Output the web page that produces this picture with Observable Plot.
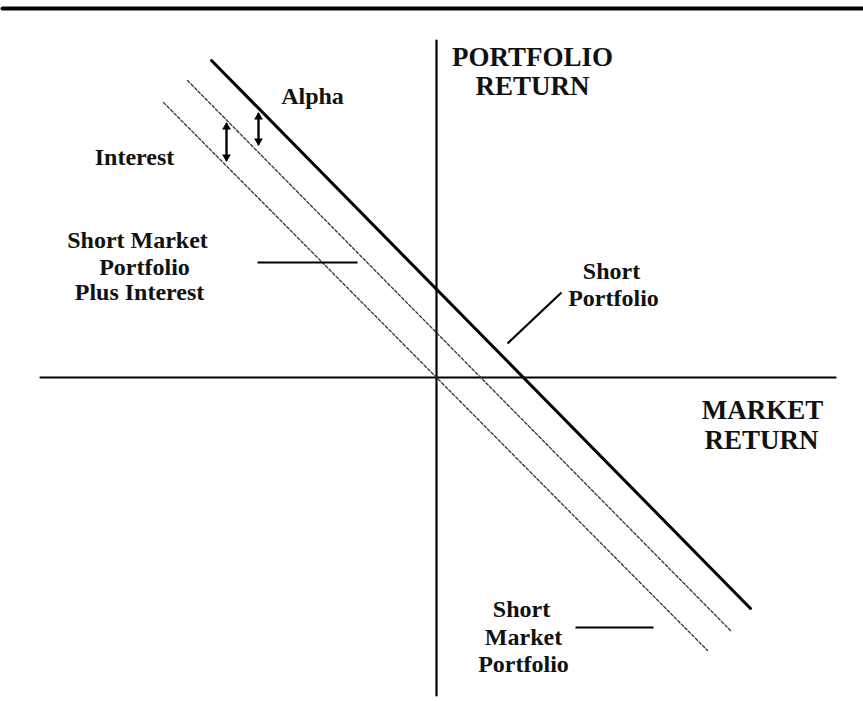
<!DOCTYPE html>
<html>
<head>
<meta charset="utf-8">
<script src="https://cdn.jsdelivr.net/npm/d3@7"></script>
<script src="https://cdn.jsdelivr.net/npm/@observablehq/plot@0.6"></script>
<style>
  html, body { margin: 0; padding: 0; background: #fff; }
  #chart svg { display: block; }
</style>
</head>
<body>
<div id="chart"></div>
<script>
// Lines in (market return, portfolio return) units
const shortPortfolio = [{x: -5.625, y: 7.925}, {x: 7.85, y: -5.775}];
const shortMarketPlusInterest = [{x: -6.225, y: 7.425}, {x: 7.35, y: -6.325}];
const shortMarket = [{x: -6.825, y: 6.875}, {x: 6.775, y: -6.825}];

// Axes extents
const xAxisLine = [{x: -9.9, y: 0}, {x: 9.975, y: 0}];
const yAxisLine = [{x: 0, y: 8.425}, {x: 0, y: -7.95}];
const topRule = [{x: -10.85, y: 9.225}, {x: 10.675, y: 9.225}];

// Double-headed arrows: alpha and interest gaps
const gapArrows = [
  {name: "Alpha", x: -4.45, y1: 6.6, y2: 5.825},
  {name: "Interest", x: -5.25, y1: 6.35, y2: 5.425}
];

// Leader lines from labels to lines
const leaders = [
  {x1: -4.475, y1: 2.875, x2: -1.975, y2: 2.875},
  {x1: 1.775, y1: 0.85, x2: 3.125, y2: 2.125},
  {x1: 3.475, y1: -6.25, x2: 5.425, y2: -6.25}
];

// Labels (one entry per line of text, baseline position)
const axisLabels = [
  {text: "PORTFOLIO", x: 2.4, y: 7.8},
  {text: "RETURN", x: 2.4, y: 7.075},
  {text: "MARKET", x: 8.15, y: -1.025},
  {text: "RETURN", x: 8.125, y: -1.775}
];
const noteLabels = [
  {text: "Alpha", x: -3.1, y: 6.85},
  {text: "Interest", x: -7.55, y: 5.325},
  {text: "Short Market", x: -7.475, y: 3.25},
  {text: "Portfolio", x: -7.3, y: 2.575},
  {text: "Plus Interest", x: -7.425, y: 1.95},
  {text: "Short", x: 4.375, y: 2.475},
  {text: "Portfolio", x: 4.425, y: 1.8},
  {text: "Short", x: 2.125, y: -5.975},
  {text: "Market", x: 2.175, y: -6.675},
  {text: "Portfolio", x: 2.175, y: -7.35}
];

const font = "'Liberation Serif', 'Times New Roman', serif";

const chart = Plot.plot({
  width: 863,
  height: 701,
  margin: 0,
  x: {domain: [-10.9, 10.675], range: [0, 863], axis: null},
  y: {domain: [-8.1, 9.425], range: [701, 0], axis: null},
  style: {background: "#fff", fontFamily: font},
  marks: [
    Plot.line(topRule, {x: "x", y: "y", stroke: "#000", strokeWidth: 4}),
    Plot.line(xAxisLine, {x: "x", y: "y", stroke: "#000", strokeWidth: 2.2}),
    Plot.line(yAxisLine, {x: "x", y: "y", stroke: "#000", strokeWidth: 2.2}),
    Plot.line(shortMarket, {x: "x", y: "y", stroke: "#333", strokeWidth: 1.3, strokeDasharray: "3,2"}),
    Plot.line(shortMarketPlusInterest, {x: "x", y: "y", stroke: "#333", strokeWidth: 1.3, strokeDasharray: "3,2"}),
    Plot.line(shortPortfolio, {x: "x", y: "y", stroke: "#000", strokeWidth: 3}),
    Plot.link(leaders, {x1: "x1", y1: "y1", x2: "x2", y2: "y2", stroke: "#000", strokeWidth: 2.2}),
    Plot.link(gapArrows, {x1: "x", y1: "y1", x2: "x", y2: "y2", stroke: "#000", strokeWidth: 2.4}),
    Plot.dot(gapArrows, {x: "x", y: "y1", symbol: "triangle2", r: 4.2, fill: "#000", stroke: "none", dy: 3.5}),
    Plot.dot(gapArrows, {x: "x", y: "y2", symbol: "triangle2", r: 4.2, fill: "#000", stroke: "none", dy: -3.5, rotate: 180}),
    Plot.text(axisLabels, {x: "x", y: "y", text: "text", fontSize: 27, fontWeight: "bold", fill: "#111", lineAnchor: "bottom", textAnchor: "middle", fontFamily: font}),
    Plot.text(noteLabels, {x: "x", y: "y", text: "text", fontSize: 24, fontWeight: "bold", fill: "#111", lineAnchor: "bottom", textAnchor: "middle", fontFamily: font})
  ]
});
document.getElementById("chart").appendChild(chart);
</script>
</body>
</html>
